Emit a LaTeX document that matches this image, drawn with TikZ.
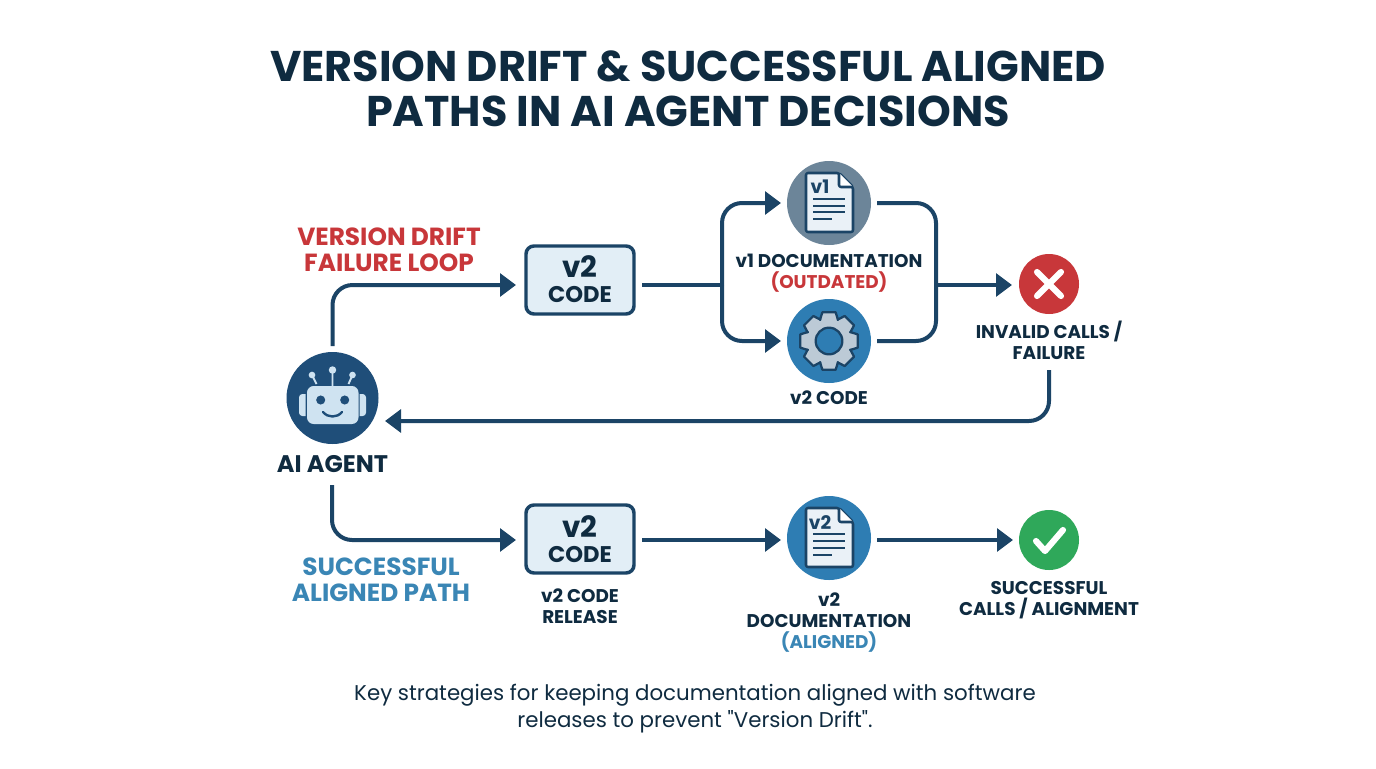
\documentclass[tikz,border=0pt]{standalone}
\usepackage{fontspec}
\setmainfont{Poppins}
\newfontfamily\plainf{Poppins}
\usetikzlibrary{arrows.meta}
\definecolor{navy}{HTML}{1B4466}
\definecolor{ink}{HTML}{0F2B40}
\definecolor{redc}{HTML}{C8373A}
\definecolor{bluet}{HTML}{3A86B5}
\definecolor{bluec}{HTML}{2E7DB3}
\definecolor{grayc}{HTML}{6C8599}
\definecolor{agentc}{HTML}{1F4E79}
\definecolor{boxf}{HTML}{E2EEF6}
\definecolor{paper}{HTML}{EAF1F7}
\definecolor{gearf}{HTML}{BCCAD6}
\definecolor{greenc}{HTML}{2FA85A}
\definecolor{headf}{HTML}{CFE3F1}
\tikzset{
 x=0.75pt,y=-0.75pt,
 conn/.style={draw=navy,line width=3pt,rounded corners=15pt},
 arr/.style={conn,-{Triangle[length=12pt,width=17pt]}},
 disc/.style={circle,minimum size=63pt,inner sep=0pt,outer sep=4.5pt,fill=#1},
 small disc/.style={circle,minimum size=45pt,inner sep=0pt,outer sep=4.5pt,fill=#1},
 codebox/.style={draw=navy,line width=2.6pt,rounded corners=6pt,fill=boxf,minimum width=81pt,minimum height=51pt,outer sep=6pt},
 lab/.style={font=\fontsize{13.8}{16}\selectfont\bfseries,text=ink,align=center,inner sep=0pt},
 lab2/.style={font=\fontsize{18.6}{19.2}\selectfont\bfseries,align=center,inner sep=0pt},
 sheet/.style={draw=navy,line width=1.9pt,fill=paper,rounded corners=1.5pt,line join=round},
 rule/.style={draw=navy,line width=2pt},
 codev/.style={inner sep=0pt,text=ink,font=\fontsize{22}{23}\selectfont\bfseries},
 codet/.style={inner sep=0pt,text=ink,font=\fontsize{17}{18}\selectfont\bfseries},
 docv/.style={inner sep=0pt,text=navy,font=\fontsize{14}{15}\selectfont\bfseries},
}
\begin{document}
\begin{tikzpicture}
\useasboundingbox (0,0) rectangle (1376,768);
\fill[white] (0,0) rectangle (1376,768);
% title
\node[font=\fontsize{32.2}{33.8}\selectfont\bfseries,text=ink,align=center,inner sep=0pt] (title) at (688,89) {VERSION DRIFT \& SUCCESSFUL ALIGNED\\PATHS IN AI AGENT DECISIONS};
% agent
\node[disc=agentc,minimum size=69pt] (agent) at (332.5,398) {};
\draw[line width=1.4pt,draw=headf] (332.5,370) -- (332.5,387) (312,375) -- (316.5,384) (352.5,375) -- (348.5,384);
\fill[headf] (332.5,370) circle[radius=2.8pt] (312,375) circle[radius=2.5pt] (352.5,375) circle[radius=2.5pt];
\fill[headf,rounded corners=2.5pt] (299,394) rectangle (310,416) (355,394) rectangle (366,416);
\fill[agentc] (305.5,390) rectangle (307,420) (358,390) rectangle (359.5,420);
\fill[headf,rounded corners=5pt] (307,386) rectangle (358.5,424);
\fill[agentc] (320.7,400) circle[radius=3.4pt] (344.7,400) circle[radius=3.4pt];
\draw[agentc,line width=1.8pt,line cap=round] (323,412) .. controls (328,418) and (337,418) .. (342,412);
\node[lab,font=\fontsize{18}{20}\selectfont\bfseries] (agentl) at (332.5,464) {AI AGENT};
% path labels
\node[lab2,text=redc] (driftl) at (389,249.5) {VERSION DRIFT\\FAILURE LOOP};
\node[lab2,text=bluet] (alignl) at (381,580) {SUCCESSFUL\\ALIGNED PATH};
% top code box
\node[codebox] (codea) at (580,280) {};
\node[codev] (codeav) at (580,267) {v2};
\node[codet] (codeat) at (580,295) {CODE};
% v1 doc
\node[disc=grayc] (docold) at (829,203) {};
\draw[sheet] (806,173) -- (839,173) -- (853,187) -- (853,232) -- (806,232) -- cycle;
\draw[sheet,fill=white] (839,173) -- (839,187) -- (853,187);
\node[docv] (docoldv) at (820,187) {v1};
\draw[rule] (813,199) -- (845,199) (813,206) -- (845,206) (813,212) -- (845,212) (813,219) -- (832,219);
\node[lab] (docoldl) at (829,273.5) {v1 DOCUMENTATION\\\textcolor{redc}{(OUTDATED)}};
% gear
\node[disc=bluec] (gear) at (829,341) {};
\draw[draw=navy,line width=1.7pt,fill=gearf,line join=round]
 \foreach \k in {0,45,...,315}{
  \ifnum\k=0 ({829+23*cos(\k-23)},{341+23*sin(\k-23)}) \else -- ({829+23*cos(\k-23)},{341+23*sin(\k-23)}) \fi
  -- ({829+29.5*cos(\k-13)},{341+29.5*sin(\k-13)})
  -- ({829+29.5*cos(\k+13)},{341+29.5*sin(\k+13)})
  -- ({829+23*cos(\k+23)},{341+23*sin(\k+23)})
 } -- cycle;
\draw[draw=navy,line width=1.7pt,fill=bluec] (829,341) circle[radius=10pt];
\node[lab] (gearl) at (829,398) {v2 CODE};
% fail
\node[small disc=redc] (fail) at (1049,284) {};
\draw[white,line width=4.6pt,line cap=round] (1037,272) -- (1061,296) (1061,272) -- (1037,296);
\node[lab] (faill) at (1049,340) {INVALID CALLS /\\FAILURE};
% bottom code box
\node[codebox] (codeb) at (580,539) {};
\node[codev] (codebv) at (580,527) {v2};
\node[codet] (codebt) at (580,554) {CODE};
\node[lab] (codebl) at (580,606) {v2 CODE\\RELEASE};
% v2 doc
\node[disc=bluec] (docnew) at (829,538) {};
\draw[sheet] (806,508) -- (839,508) -- (853,522) -- (853,567) -- (806,567) -- cycle;
\draw[sheet,fill=white] (839,508) -- (839,522) -- (853,522);
\node[docv] (docnewv) at (820,523) {v2};
\draw[rule] (813,534) -- (845,534) (813,541) -- (845,541) (813,548) -- (845,548) (813,555) -- (832,555);
\node[lab] (docnewl) at (829,622.5) {v2\\DOCUMENTATION\\\textcolor{bluet}{(ALIGNED)}};
% ok
\node[small disc=greenc] (ok) at (1049,540) {};
\draw[white,line width=4.6pt,line cap=round,line join=round] (1036,541) -- (1045,551) -- (1063,530);
\node[lab] (okl) at (1049,600) {SUCCESSFUL\\CALLS / ALIGNMENT};
% caption
\node[inner sep=0pt,text=ink,align=center,font=\plainf\fontsize{16}{20.3}\selectfont] (cap) at (695,708.5) {Key strategies for keeping documentation aligned with software\\releases to prevent "Version Drift".};
% connectors
\coordinate (ina) at (516,285);
\coordinate (outa) at (642,285);
\coordinate (split) at (722,285);
\coordinate (join) at (936,285);
\coordinate (outold) at (877,203);
\coordinate (outgear) at (877,341);
\coordinate (infail) at (1012,285);
\coordinate (failout) at (1049,370);
\coordinate (back) at (385,421);
\coordinate (agentout) at (332,485);
\coordinate (inb) at (516,540);
\draw[arr] (agent.north) |- (ina);
\draw[conn] (outa) -- (split);
\draw[arr] (split) |- (docold.west);
\draw[arr] (split) |- (gear.west);
\draw[conn] (outold) -| (join);
\draw[conn] (outgear) -| (join);
\draw[arr] (join) -- (infail);
\draw[arr] (failout) |- (back);
\draw[arr] (agentout) |- (inb);
\draw[arr] (codeb.east |- inb) -- (docnew.west |- inb);
\draw[arr] (docnew.east |- inb) -- (ok.west |- inb);
\end{tikzpicture}
\end{document}
